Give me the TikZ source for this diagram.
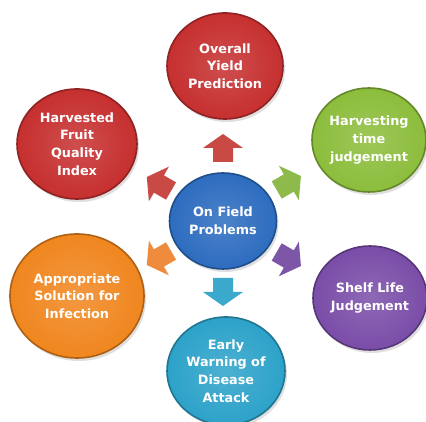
\documentclass[tikz,border=0pt]{standalone}
\usepackage{fontspec}
\setmainfont{DejaVu Sans}
\usetikzlibrary{shadows,shapes.geometric}
\definecolor{cred}{HTML}{C62F2F}
\definecolor{cgreen}{HTML}{8CBD3C}
\definecolor{cpurple}{HTML}{7A4DA8}
\definecolor{ccyan}{HTML}{2DA2C9}
\definecolor{corange}{HTML}{F0861F}
\definecolor{cblue}{HTML}{2D6CBF}
\definecolor{ared}{HTML}{C94A45}
\definecolor{agreen}{HTML}{8DBA4A}
\definecolor{apurple}{HTML}{7D56A8}
\definecolor{acyan}{HTML}{3BA9CC}
\definecolor{aorange}{HTML}{EF8B3C}
\tikzset{
  disc/.style={ellipse, draw=#1!72!black, line width=1.6pt,
    inner color=#1!85!white, outer color=#1,
    text=white, align=center, inner sep=0pt,
    font=\bfseries\fontsize{12.8}{17.6}\selectfont,
    drop shadow={shadow xshift=2pt, shadow yshift=-3pt, opacity=0.25}},
  blockarr/.pic={\fill[pic actions] (-14,-10) -- (0,-10) -- (0,-20) -- (14,0) -- (0,20) -- (0,10) -- (-14,10) -- cycle;}
}
\begin{document}
\begin{tikzpicture}[x=1pt,y=1pt]
\useasboundingbox (0,0) rectangle (426,422);
\fill[white] (0,0) rectangle (426,422);
\node[disc=cred, minimum width=116, minimum height=106] (yield) at (225,356) {Overall\\Yield\\Prediction};
\node[disc=cred, minimum width=120, minimum height=110] (quality) at (77,278) {Harvested\\Fruit\\Quality\\Index};
\node[disc=cgreen, minimum width=114, minimum height=104] (harvest) at (369,282) {Harvesting\\time\\judgement};
\node[disc=corange, minimum width=134, minimum height=124] (solution) at (77,126) {Appropriate\\Solution for\\Infection};
\node[disc=cpurple, minimum width=114, minimum height=104] (shelf) at (370,124) {Shelf Life\\Judgement};
\node[disc=ccyan, minimum width=118, minimum height=108] (warning) at (226,51) {Early\\Warning of\\Disease\\Attack};
\node[disc=cblue, minimum width=107, minimum height=96] (field) at (223,201) {On Field\\Problems};
\pic[fill=ared, rotate=90] at ([shift={(90:73)}]field.center) {blockarr};
\pic[fill=ared, rotate=150] at ([shift={(150:74)}]field.center) {blockarr};
\pic[fill=agreen, rotate=30] at ([shift={(30:76)}]field.center) {blockarr};
\pic[fill=apurple, rotate=-30] at ([shift={(-30:76)}]field.center) {blockarr};
\pic[fill=acyan, rotate=-90] at ([shift={(-90:71)}]field.center) {blockarr};
\pic[fill=aorange, rotate=210] at ([shift={(210:74)}]field.center) {blockarr};
\end{tikzpicture}
\end{document}
